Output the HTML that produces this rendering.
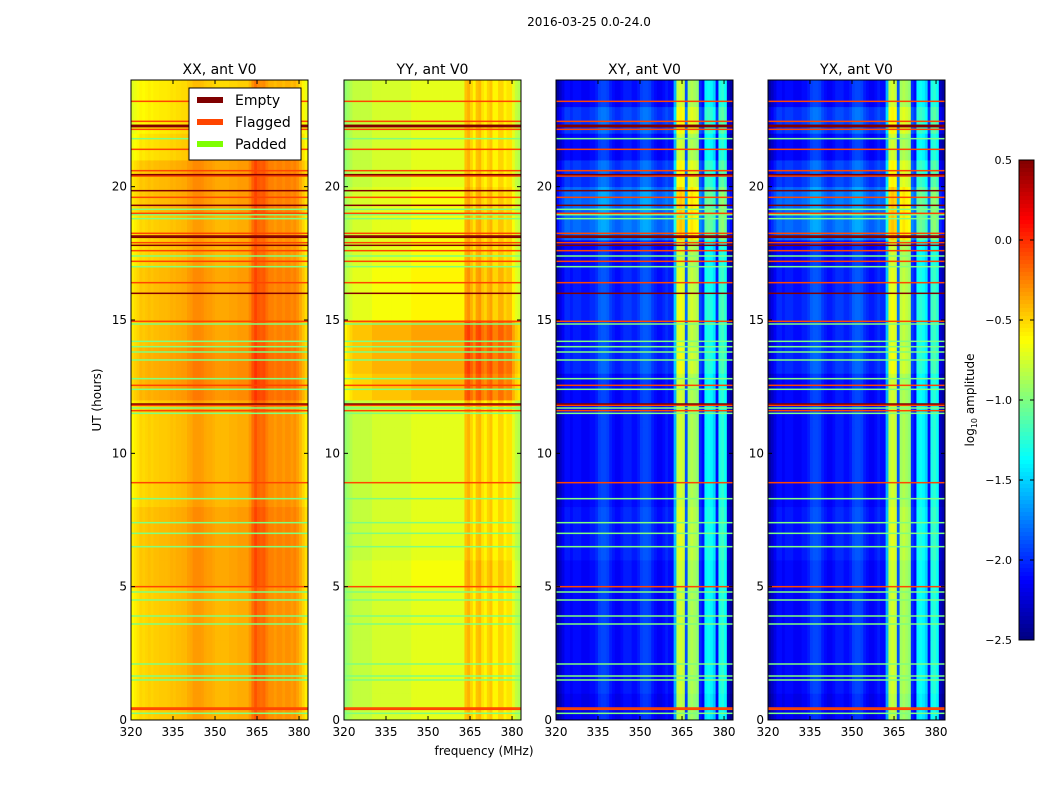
<!DOCTYPE html>
<html><head><meta charset="utf-8"><style>
body{margin:0;background:#fff;font-family:"Liberation Sans","DejaVu Sans",sans-serif}
svg text{font-family:"DejaVu Sans","Liberation Sans",sans-serif}
</style></head><body>
<svg id="fig" width="1050" height="800" xmlns="http://www.w3.org/2000/svg">
<rect width="1050" height="800" fill="#fff"/>
<text x="589" y="26" font-size="12" text-anchor="middle">2016-03-25 0.0-24.0</text>
<text x="101" y="400" font-size="12" text-anchor="middle" transform="rotate(-90 101 400)">UT (hours)</text>
<text x="484" y="755" font-size="12" text-anchor="middle">frequency (MHz)</text>
<g id="panels"></g>
<g id="cbar"></g>
</svg>
<script>
// ---- data ----
const freqStart = 320, freqStep = 1, nFreq = 64;
const hours = [0,1,2,3,4,5,6,7,8,9,10,11,12,13,14,15,16,17,18,19,20,21,22,23];
const profXX = [-0.62,-0.58,-0.55,-0.5,-0.52,-0.5,-0.48,-0.5,-0.48,-0.48,-0.47,-0.47,-0.47,-0.46,-0.44,-0.45,-0.43,-0.43,-0.42,-0.42,-0.38,-0.37,-0.33,-0.33,-0.33,-0.34,-0.37,-0.38,-0.38,-0.4,-0.42,-0.42,-0.42,-0.42,-0.42,-0.4,-0.4,-0.4,-0.38,-0.38,-0.38,-0.38,-0.32,-0.2,-0.12,-0.18,-0.2,-0.18,-0.25,-0.3,-0.3,-0.33,-0.3,-0.3,-0.33,-0.3,-0.3,-0.33,-0.3,-0.35,-0.42,-0.5,-0.58,-0.62];
const profYY = [-0.95,-0.9,-0.85,-0.8,-0.8,-0.8,-0.8,-0.8,-0.8,-0.8,-0.75,-0.75,-0.75,-0.75,-0.75,-0.75,-0.75,-0.75,-0.75,-0.75,-0.75,-0.75,-0.75,-0.75,-0.7,-0.7,-0.7,-0.7,-0.7,-0.7,-0.7,-0.7,-0.7,-0.7,-0.7,-0.7,-0.7,-0.7,-0.7,-0.7,-0.7,-0.7,-0.7,-0.45,-0.4,-0.5,-0.6,-0.45,-0.42,-0.55,-0.6,-0.5,-0.45,-0.6,-0.6,-0.5,-0.5,-0.6,-0.55,-0.55,-0.7,-0.8,-0.85,-0.9];
const profXY = [-2.4,-2.3,-2.2,-2.1,-2.1,-2.15,-2.1,-2.1,-2.1,-2.15,-2.15,-2.15,-2.1,-2.1,-2.05,-1.95,-1.92,-1.92,-1.95,-2.05,-2.1,-2.15,-2.15,-2.1,-2.05,-2.05,-2.05,-2.1,-2.1,-2.05,-1.95,-1.92,-1.92,-1.95,-2.05,-2.1,-2.15,-2.15,-2.1,-2.05,-2.1,-2.1,-1.6,-0.8,-0.75,-0.8,-1.9,-0.9,-0.85,-0.9,-0.95,-2.0,-2.1,-1.4,-1.35,-1.4,-1.5,-2.1,-1.3,-1.25,-1.35,-2.3,-2.4,-2.45];
const profYX = profXY.slice();
const offXX = [0,0,0,0,0,0.05,0.05,0.05,0,0,0,0,0.1,0.1,0.05,0.05,0.05,0,0,0.05,0.05,-0.05,-0.1,-0.1];
const offYY = [0,0,0,0,0,0.05,0,0,0,0,0,0,0.3,0.35,0.35,0.1,0.1,0.05,0.05,0.05,0,0,0,0];
const offXY = [-0.05,0,0,0,0,0,0.05,0.05,0,0,0,0,0,0.1,0.05,0.1,0.05,0,0.3,0.3,0.15,0,0.15,0];
const offYX = offXY.slice();
const flaggedTimes = [0.4,0.45,5.0,8.9,11.6,11.8,12.55,14.95,16.4,17.2,17.6,17.9,18.25,19.0,19.6,20.4,20.6,21.4,22.15,22.45,23.2];
const emptyTimes = [11.85,16.0,17.8,18.1,18.15,19.3,19.85,20.45,22.25,22.3];
const paddedTimes = [0.25,1.5,1.65,2.1,3.6,3.9,4.5,4.8,6.5,7.0,7.4,8.3,11.5,11.7,12.4,12.8,13.5,13.8,14.0,14.2,14.85,17.0,17.4,18.8,18.95,19.15,21.8];
const panelTitles = ["XX, ant V0","YY, ant V0","XY, ant V0","YX, ant V0"];
const profiles = [profXX,profYY,profXY,profYX];
const offsets = [offXX,offYY,offXY,offYX];
const xTicks = [320,335,350,365,380];
const yTicks = [0,5,10,15,20];
const cbTicks = [0.5,0.0,-0.5,-1.0,-1.5,-2.0,-2.5];
// ---- layout ----
const NS="http://www.w3.org/2000/svg";
const panelX=[131,344,556,768], PW=177, PT=80, PB=720;
const fMin=320, fMax=383.2, vMin=-2.5, vMax=0.5;
function xs(f,i){return panelX[i]+(f-fMin)/(fMax-fMin)*PW;}
function ys(h){return PB-(h/24)*(PB-PT);}
function jet(v){let t=Math.max(0,Math.min(1,(v-vMin)/(vMax-vMin)));
 const c=x=>Math.round(255*Math.max(0,Math.min(1,x)));
 return `rgb(${c(1.5-Math.abs(4*t-3))},${c(1.5-Math.abs(4*t-2))},${c(1.5-Math.abs(4*t-1))})`;}
function el(tag,attrs,parent){const e=document.createElementNS(NS,tag);for(const k in attrs)e.setAttribute(k,attrs[k]);parent.appendChild(e);return e;}
const G=document.getElementById('panels');
for(let i=0;i<4;i++){
 const g=el('g',{},G);
 
 
 const prof=profiles[i],off=offsets[i];
 for(let h=0;h<hours.length;h++){
  for(let f=0;f<nFreq;f++){
   const f0=freqStart+f*freqStep;
   const x0=xs(f0,i), x1=Math.min(xs(f0+freqStep,i),panelX[i]+PW);
   if(x1<=x0) continue;
   const r=el('rect',{x:x0,y:ys(hours[h]+1),width:x1-x0+0.4,height:ys(hours[h])-ys(hours[h]+1)+0.4,fill:jet(prof[f]+off[h])},g);
   
   
  }
 }
 const lines=[[paddedTimes,'#7fff7f'],[flaggedTimes,'#ff4500'],[emptyTimes,'#800000']];
 for(const [arr,col] of lines){for(const t of arr){
  const r=el('rect',{x:panelX[i],y:ys(t)-0.75,width:PW,height:1.5,fill:col},g);
  
  
 }}
 el('rect',{x:panelX[i],y:PT,width:PW,height:PB-PT,fill:'none',stroke:'#000','stroke-width':1},g);
 const tt=el('text',{x:panelX[i]+PW/2,y:PT-6,'font-size':14,'text-anchor':'middle'},g);tt.textContent=panelTitles[i];
 
 
 for(const v of xTicks){const x=xs(v,i);
  el('line',{x1:x,x2:x,y1:PB,y2:PB-4,stroke:'#000'},g);el('line',{x1:x,x2:x,y1:PT,y2:PT+4,stroke:'#000'},g);
  const t=el('text',{x:x,y:PB+16,'font-size':12,'text-anchor':'middle'},g);t.textContent=v;
  
  }
 for(const v of yTicks){const y=ys(v);
  el('line',{x1:panelX[i],x2:panelX[i]+4,y1:y,y2:y,stroke:'#000'},g);el('line',{x1:panelX[i]+PW,x2:panelX[i]+PW-4,y1:y,y2:y,stroke:'#000'},g);
  const t=el('text',{x:panelX[i]-4,y:y+4,'font-size':12,'text-anchor':'end'},g);t.textContent=v;
  
  }
}
// legend
const L=el('g',{},G);


el('rect',{x:189,y:88,width:112,height:72,fill:'#fff',stroke:'#000'},L);
[['Empty','#800000'],['Flagged','#ff4500'],['Padded','#7fff00']].forEach((d,k)=>{
 const y=100+k*22;
 el('rect',{x:197,y:y-3,width:26,height:6,fill:d[1]},L);
 const t=el('text',{x:235,y:y+5,'font-size':14},L);t.textContent=d[0];
 
 
});
// colorbar
const C=document.getElementById('cbar');
const cx=1019,cw=15,ct=160,cb=640;
for(let k=0;k<120;k++){const v=vMax-(k+0.5)/120*(vMax-vMin);
 el('rect',{x:cx,y:ct+k*(cb-ct)/120,width:cw,height:(cb-ct)/120+0.5,fill:jet(v)},C);}
const cbf=el('rect',{x:cx,y:ct,width:cw,height:cb-ct,fill:'none',stroke:'#000'},C);


for(const v of cbTicks){const y=ct+(vMax-v)/(vMax-vMin)*(cb-ct);
 el('line',{x1:cx,x2:cx+4,y1:y,y2:y,stroke:'#000'},C);el('line',{x1:cx+cw,x2:cx+cw-4,y1:y,y2:y,stroke:'#000'},C);
 const t=el('text',{x:1012,y:y+4,'font-size':11,'text-anchor':'end'},C);t.textContent=v.toFixed(1).replace('-','\u2212');
 
 }
const cl=el('text',{x:974,y:400,'font-size':12,'text-anchor':'middle',transform:'rotate(-90 974 400)'},C);
cl.innerHTML='log<tspan font-size="8" dy="3">10</tspan><tspan dy="-3"> amplitude</tspan>';


</script>
</body></html>
